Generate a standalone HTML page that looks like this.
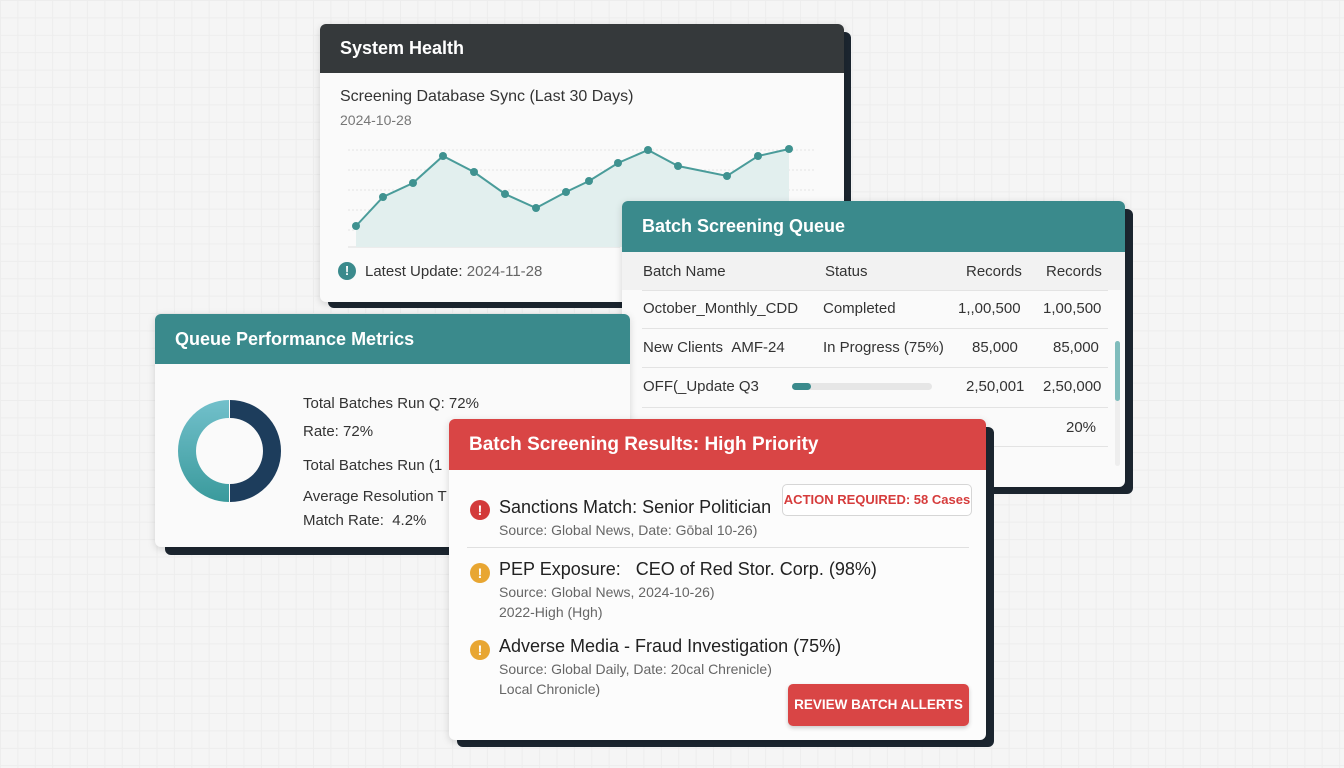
<!DOCTYPE html>
<html><head><meta charset="utf-8"><style>
*{margin:0;padding:0;box-sizing:border-box}
body{width:1344px;height:768px;overflow:hidden;position:relative;font-family:"Liberation Sans",sans-serif;
background-color:#f5f5f5;background-image:linear-gradient(#ededed 1px,transparent 1px),linear-gradient(90deg,#ededed 1px,transparent 1px);background-size:17.4px 17.4px}
.p{position:absolute;background:#fafafa;border-radius:6px;box-shadow:0 2px 8px rgba(0,0,0,.15);overflow:hidden}
.sh{position:absolute;background:#1c2630;border-radius:6px}
.hd{color:#fff;font-weight:bold;font-size:18px;padding-left:20px;display:flex;align-items:center}
.t{position:absolute;white-space:nowrap}
</style></head><body>

<!-- System Health -->
<div class="sh" style="left:328px;top:32px;width:523px;height:276px"></div>
<div class="p" style="left:320px;top:24px;width:524px;height:278px">
 <div class="hd" style="height:49px;background:#35393b">System Health</div>
 <div class="t" style="left:20px;top:64px;font-size:16px;color:#333">Screening Database Sync (Last 30 Days)</div>
 <div class="t" style="left:20px;top:88px;font-size:14px;color:#777">2024-10-28</div>
 <div class="t" style="left:18px;top:238px;width:18px;height:18px;border-radius:50%;background:#3a8a8c;color:#fff;font-weight:bold;font-size:13px;text-align:center;line-height:18px">!</div>
 <div class="t" style="left:45px;top:239px;font-size:15px;color:#333">Latest Update: <span style="color:#666">2024-11-28</span></div>
</div>
<svg style="position:absolute;left:0;top:0" width="1344" height="768">
 <g stroke="#e4e4e4" stroke-dasharray="2,2">
  <line x1="348" y1="150" x2="815" y2="150"/><line x1="348" y1="170" x2="815" y2="170"/><line x1="348" y1="190" x2="815" y2="190"/><line x1="348" y1="210" x2="815" y2="210"/><line x1="348" y1="230" x2="815" y2="230"/></g>
 <line x1="348" y1="247" x2="620" y2="247" stroke="#ddd"/>
 <polygon fill="#e2efee" points="356,247 356,226 383,197 413,183 443,156 474,172 505,194 536,208 566,192 589,181 618,163 648,150 678,166 727,176 758,156 789,149 789,247"/>
 <polyline fill="none" stroke="#4a9c9a" stroke-width="2" points="356,226 383,197 413,183 443,156 474,172 505,194 536,208 566,192 589,181 618,163 648,150 678,166 727,176 758,156 789,149"/>
 <g fill="#3f9290"><circle cx="356" cy="226" r="4"/><circle cx="383" cy="197" r="4"/><circle cx="413" cy="183" r="4"/><circle cx="443" cy="156" r="4"/><circle cx="474" cy="172" r="4"/><circle cx="505" cy="194" r="4"/><circle cx="536" cy="208" r="4"/><circle cx="566" cy="192" r="4"/><circle cx="589" cy="181" r="4"/><circle cx="618" cy="163" r="4"/><circle cx="648" cy="150" r="4"/><circle cx="678" cy="166" r="4"/><circle cx="727" cy="176" r="4"/><circle cx="758" cy="156" r="4"/><circle cx="789" cy="149" r="4"/></g>
</svg>

<!-- Batch Screening Queue -->
<div class="sh" style="left:630px;top:209px;width:503px;height:285px"></div>
<div class="p" style="left:622px;top:201px;width:503px;height:286px">
 <div class="hd" style="height:51px;background:#3a8a8c">Batch Screening Queue</div>
 <div style="position:absolute;left:0;top:51px;width:503px;height:38px;background:#f2f2f2"></div>
 <div class="t" style="left:21px;top:62px;font-size:15px;color:#333">Batch Name</div>
 <div class="t" style="left:203px;top:62px;font-size:15px;color:#333">Status</div>
 <div class="t" style="left:344px;top:62px;font-size:15px;color:#333">Records</div>
 <div class="t" style="left:424px;top:62px;font-size:15px;color:#333">Records</div>
 <div style="position:absolute;left:20px;top:89px;width:466px;border-top:1px solid #e3e3e3"></div>
 <div class="t" style="left:21px;top:99px;font-size:15px;color:#333">October_Monthly_CDD</div>
 <div class="t" style="left:201px;top:99px;font-size:15px;color:#333">Completed</div>
 <div class="t" style="left:336px;top:99px;font-size:15px;color:#333">1,,00,500</div>
 <div class="t" style="left:421px;top:99px;font-size:15px;color:#333">1,00,500</div>
 <div style="position:absolute;left:20px;top:127px;width:466px;border-top:1px solid #e3e3e3"></div>
 <div class="t" style="left:21px;top:138px;font-size:15px;color:#333">New Clients &nbsp;AMF-24</div>
 <div class="t" style="left:201px;top:138px;font-size:15px;color:#333">In Progress (75%)</div>
 <div class="t" style="left:350px;top:138px;font-size:15px;color:#333">85,000</div>
 <div class="t" style="left:431px;top:138px;font-size:15px;color:#333">85,000</div>
 <div style="position:absolute;left:20px;top:166px;width:466px;border-top:1px solid #e3e3e3"></div>
 <div class="t" style="left:21px;top:177px;font-size:15px;color:#333">OFF(_Update Q3</div>
 <div style="position:absolute;left:170px;top:182px;width:140px;height:7px;background:#e6e6e6;border-radius:4px"></div>
 <div style="position:absolute;left:170px;top:182px;width:19px;height:7px;background:#3a8a8c;border-radius:4px"></div>
 <div class="t" style="left:344px;top:177px;font-size:15px;color:#333">2,50,001</div>
 <div class="t" style="left:421px;top:177px;font-size:15px;color:#333">2,50,000</div>
 <div style="position:absolute;left:20px;top:206px;width:466px;border-top:1px solid #e3e3e3"></div>
 <div class="t" style="left:444px;top:218px;font-size:15px;color:#333">20%</div>
 <div style="position:absolute;left:20px;top:245px;width:466px;border-top:1px solid #e3e3e3"></div>
 <div style="position:absolute;left:493px;top:140px;width:5px;height:125px;background:#eee;border-radius:3px"></div>
 <div style="position:absolute;left:493px;top:140px;width:5px;height:60px;background:#7fbcbc;border-radius:3px"></div>
</div>

<!-- Queue Performance Metrics -->
<div class="sh" style="left:165px;top:530px;width:470px;height:25px"></div>
<div class="p" style="left:155px;top:314px;width:475px;height:233px">
 <div class="hd" style="height:50px;background:#3a8a8c">Queue Performance Metrics</div>
 <div class="t" style="left:148px;top:81px;font-size:15px;color:#333">Total Batches Run Q: 72%</div>
 <div class="t" style="left:148px;top:109px;font-size:15px;color:#333">Rate: 72%</div>
 <div class="t" style="left:148px;top:143px;font-size:15px;color:#333">Total Batches Run (1</div>
 <div class="t" style="left:148px;top:174px;font-size:15px;color:#333">Average Resolution T</div>
 <div class="t" style="left:148px;top:198px;font-size:15px;color:#333">Match Rate: &nbsp;4.2%</div>
</div>
<svg style="position:absolute;left:178px;top:400px" width="104" height="104">
 <defs><linearGradient id="g" x1="0" y1="0" x2="0" y2="1"><stop offset="0" stop-color="#72c0cb"/><stop offset="1" stop-color="#3a9a9c"/></linearGradient></defs>
 <path d="M51,0 A51,51 0 0,0 51,102 L51,84 A33,33 0 0,1 51,18Z" fill="url(#g)"/>
 <path d="M52,0 A51,51 0 0,1 52,102 L52,84 A33,33 0 0,0 52,18Z" fill="#1d3d5c"/>
</svg>

<!-- Red panel -->
<div class="sh" style="left:457px;top:427px;width:537px;height:320px"></div>
<div class="p" style="left:449px;top:419px;width:537px;height:321px;background:#fcfcfc">
 <div class="hd" style="height:51px;background:#d94545;font-size:19px">Batch Screening Results: High Priority</div>
 <div class="t" style="left:333px;top:65px;width:190px;height:32px;border:1px solid #d6d6d6;border-radius:5px;background:#fff;color:#d63c3c;font-weight:bold;font-size:13px;text-align:center;line-height:30px">ACTION REQUIRED: 58 Cases</div>
 <div class="t" style="left:21px;top:81px;width:20px;height:20px;border-radius:50%;background:#d33a3a;color:#fff;font-weight:bold;font-size:14px;text-align:center;line-height:20px">!</div>
 <div class="t" style="left:50px;top:78px;font-size:18px;color:#222">Sanctions Match: Senior Politician</div>
 <div class="t" style="left:50px;top:103px;font-size:14px;color:#666">Source: Global News, Date: Gōbal 10-26)</div>
 <div style="position:absolute;left:18px;top:128px;width:502px;border-top:1px solid #e0e0e0"></div>
 <div class="t" style="left:21px;top:144px;width:20px;height:20px;border-radius:50%;background:#e8a632;color:#fff;font-weight:bold;font-size:14px;text-align:center;line-height:20px">!</div>
 <div class="t" style="left:50px;top:140px;font-size:18px;color:#222">PEP Exposure: &nbsp;&nbsp;CEO of Red Stor. Corp. (98%)</div>
 <div class="t" style="left:50px;top:165px;font-size:14px;color:#666">Source: Global News, 2024-10-26)</div>
 <div class="t" style="left:50px;top:185px;font-size:14px;color:#666">2022-High (Hgh)</div>
 <div class="t" style="left:21px;top:221px;width:20px;height:20px;border-radius:50%;background:#e8a632;color:#fff;font-weight:bold;font-size:14px;text-align:center;line-height:20px">!</div>
 <div class="t" style="left:50px;top:217px;font-size:18px;color:#222">Adverse Media - Fraud Investigation (75%)</div>
 <div class="t" style="left:50px;top:242px;font-size:14px;color:#666">Source: Global Daily, Date: 20cal Chrenicle)</div>
 <div class="t" style="left:50px;top:262px;font-size:14px;color:#666">Local Chronicle)</div>
 <div class="t" style="left:339px;top:265px;width:181px;height:42px;border-radius:5px;background:#d94545;color:#fff;font-weight:bold;font-size:13.5px;text-align:center;line-height:42px;box-shadow:0 2px 4px rgba(0,0,0,.2)">REVIEW BATCH ALLERTS</div>
</div>
</body></html>
